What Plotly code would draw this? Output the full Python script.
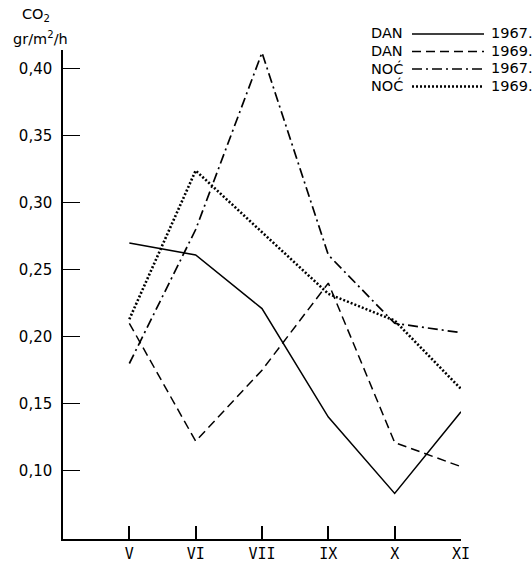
import plotly.graph_objects as go

months = ["V", "VI", "VII", "IX", "X", "XI"]
x_pos = [1, 2, 3, 4, 5, 6]
dan_1967 = [0.270, 0.261, 0.221, 0.140, 0.083, 0.144]
dan_1969 = [0.210, 0.122, 0.175, 0.240, 0.121, 0.103]
noc_1967 = [0.180, 0.280, 0.412, 0.261, 0.210, 0.203]
noc_1969 = [0.213, 0.324, 0.278, 0.232, 0.212, 0.161]
y_ticks = [0.10, 0.15, 0.20, 0.25, 0.30, 0.35, 0.40]

series = [
    ("DAN", "1967.", dan_1967, "solid", 1.5),
    ("DAN", "1969.", dan_1969, "9px,5px", 1.5),
    ("NOĆ", "1967.", noc_1967, "10px,4px,2px,4px", 1.7),
    ("NOĆ", "1969.", noc_1969, "2px,2px", 2.6),
]

W, H = 532, 564
L, R, T, B = 63, 461, 50, 539

def px(x):
    return (x - L) / (R - L)

def py(y):
    return (B - y) / (B - T)

fig = go.Figure()
for name, yr, vals, dash, w in series:
    fig.add_trace(go.Scatter(x=x_pos, y=vals, mode="lines",
                             line=dict(color="black", width=w, dash=dash),
                             showlegend=False, hoverinfo="skip"))

txt_font = dict(family="DejaVu Sans", size=14.5, color="black")
annotations = []
shapes = []
row_y = [33, 50.5, 68, 85.5]
for (name, yr, vals, dash, w), ry in zip(series, row_y):
    annotations.append(dict(x=px(369), y=py(ry), xref="paper", yref="paper",
                            text=name, showarrow=False, xanchor="left",
                            yanchor="middle", font=txt_font))
    annotations.append(dict(x=px(489), y=py(ry), xref="paper", yref="paper",
                            text=yr, showarrow=False, xanchor="left",
                            yanchor="middle", font=txt_font))
    shapes.append(dict(type="line", xref="paper", yref="paper",
                       x0=px(412), x1=px(484), y0=py(ry + 1), y1=py(ry + 1),
                       line=dict(color="black", width=w, dash=dash)))

annotations.append(dict(x=px(36), y=py(15), xref="paper", yref="paper",
                        text="CO<sub>2</sub>", showarrow=False, xanchor="center",
                        yanchor="middle", font=txt_font))
annotations.append(dict(x=px(40), y=py(38), xref="paper", yref="paper",
                        text="gr/m<sup>2</sup>/h", showarrow=False, xanchor="center",
                        yanchor="middle", font=txt_font))

fig.update_layout(
    width=W, height=H,
    margin=dict(l=L, r=W - R, t=T, b=H - B, autoexpand=False),
    plot_bgcolor="white", paper_bgcolor="white",
    separators=",.",
    font=dict(family="DejaVu Sans", size=15, color="black"),
    annotations=annotations,
    shapes=shapes,
    xaxis=dict(range=[0, 6], tickvals=x_pos, ticktext=months,
               ticks="inside", ticklen=13, tickwidth=1.5, tickcolor="black",
               showline=True, linecolor="black", linewidth=1.5,
               showgrid=False, zeroline=False, fixedrange=True,
               tickfont=dict(family="DejaVu Sans Mono", size=15)),
    yaxis=dict(range=[0.049, 0.414], tickvals=y_ticks, tickformat=".2f",
               ticks="inside", ticklen=17, tickwidth=1.2, tickcolor="black",
               showline=True, linecolor="black", linewidth=1.5,
               showgrid=False, zeroline=False, fixedrange=True,
               ticklabelstandoff=6,
               tickfont=dict(family="DejaVu Sans", size=15)),
)

fig.write_html("out.html", config={"displayModeBar": False},
               post_script="document.body.style.margin='0';document.body.style.overflow='hidden';")
